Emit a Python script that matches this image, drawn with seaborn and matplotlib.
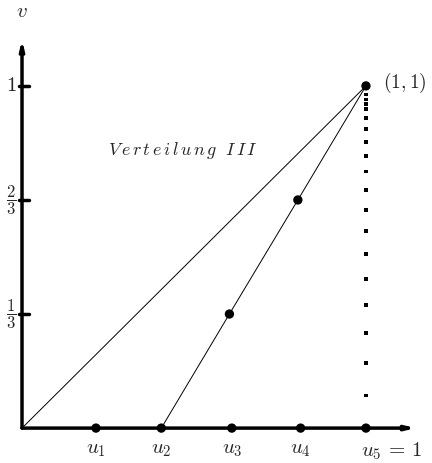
import matplotlib
matplotlib.use("Agg")
import matplotlib.pyplot as plt
import seaborn as sns
import pandas as pd

# data
u_points = [0.215, 0.405, 0.61, 0.81, 1.0]
u_labels = ["$u_1$", "$u_2$", "$u_3$", "$u_4$", r"$u_5\,=\,1$"]
diag_u = [0.0, 1.0]
diag_v = [0.0, 1.0]
verteilung_u = [0.405, 0.603, 0.802, 1.0]
verteilung_v = [0.0, 1 / 3, 2 / 3, 1.0]
dotted_v = [0.974, 0.961, 0.947, 0.933, 0.906, 0.874, 0.836, 0.795, 0.749,
            0.696, 0.637, 0.576, 0.509, 0.436, 0.360, 0.278, 0.190, 0.096]
y_ticks = [1 / 3, 2 / 3, 1.0]
y_tick_labels = [r"$\dfrac{1}{3}$", r"$\dfrac{2}{3}$", "$1$"]

sns.set_style("white")
plt.rcParams["mathtext.fontset"] = "cm"
plt.rcParams["font.family"] = ["DejaVu Serif"]

fig = plt.figure(figsize=(4.32, 4.63), dpi=100)
ax = fig.add_axes([0, 0, 1, 1])
ax.set_xlim(-0.064, 1.192)
ax.set_ylim(-0.102, 1.251)
ax.axis("off")

# axes with arrows
ax.annotate("", xy=(1.145, 0), xytext=(0, 0),
            arrowprops=dict(arrowstyle="-|>,head_length=0.5,head_width=0.12",
                            lw=2.5, color="black", shrinkA=0, shrinkB=0))
ax.annotate("", xy=(0, 1.135), xytext=(0, 0),
            arrowprops=dict(arrowstyle="-|>,head_length=0.5,head_width=0.12",
                            lw=2.5, color="black", shrinkA=0, shrinkB=0))

for yt, lab in zip(y_ticks, y_tick_labels):
    ax.plot([-0.009, 0.02], [yt, yt], color="black", lw=2.5)
    fs = 15 if lab == "$1$" else 12
    ax.text(-0.032, yt, lab, ha="center", va="center", fontsize=fs)

# lines
df_diag = pd.DataFrame({"u": diag_u, "v": diag_v})
sns.lineplot(data=df_diag, x="u", y="v", color="black", lw=0.7, ax=ax)
df_vert = pd.DataFrame({"u": verteilung_u, "v": verteilung_v})
sns.lineplot(data=df_vert, x="u", y="v", color="black", lw=0.7, ax=ax)
sns.scatterplot(x=verteilung_u[1:], y=verteilung_v[1:], color="black",
                s=45, edgecolor="none", ax=ax, zorder=5)

# dotted vertical
sns.scatterplot(x=[1.0] * len(dotted_v), y=dotted_v, color="black",
                marker="s", s=6, edgecolor="none", ax=ax, zorder=5)

# points on u-axis
sns.scatterplot(x=u_points, y=[0] * len(u_points), color="black",
                s=45, edgecolor="none", ax=ax, zorder=5)
for u, lab in zip(u_points[:-1], u_labels[:-1]):
    ax.text(u, -0.035, lab, ha="center", va="top", fontsize=15)
ax.text(u_points[-1] - 0.013, -0.035, u_labels[-1], ha="left", va="top",
        fontsize=15)

ax.text(1.05, 1.01, "$(1,1)$", ha="left", va="center", fontsize=14)
ax.text(0.0, 1.19, "$v$", ha="center", va="bottom", fontsize=15)
ax.text(0.25, 0.81, r"$V\,e\,r\,t\,e\,i\,l\,u\,n\,g\ \ I\,I\,I$",
        ha="left", va="center", fontsize=13)

fig.savefig("out.png", dpi=100)
